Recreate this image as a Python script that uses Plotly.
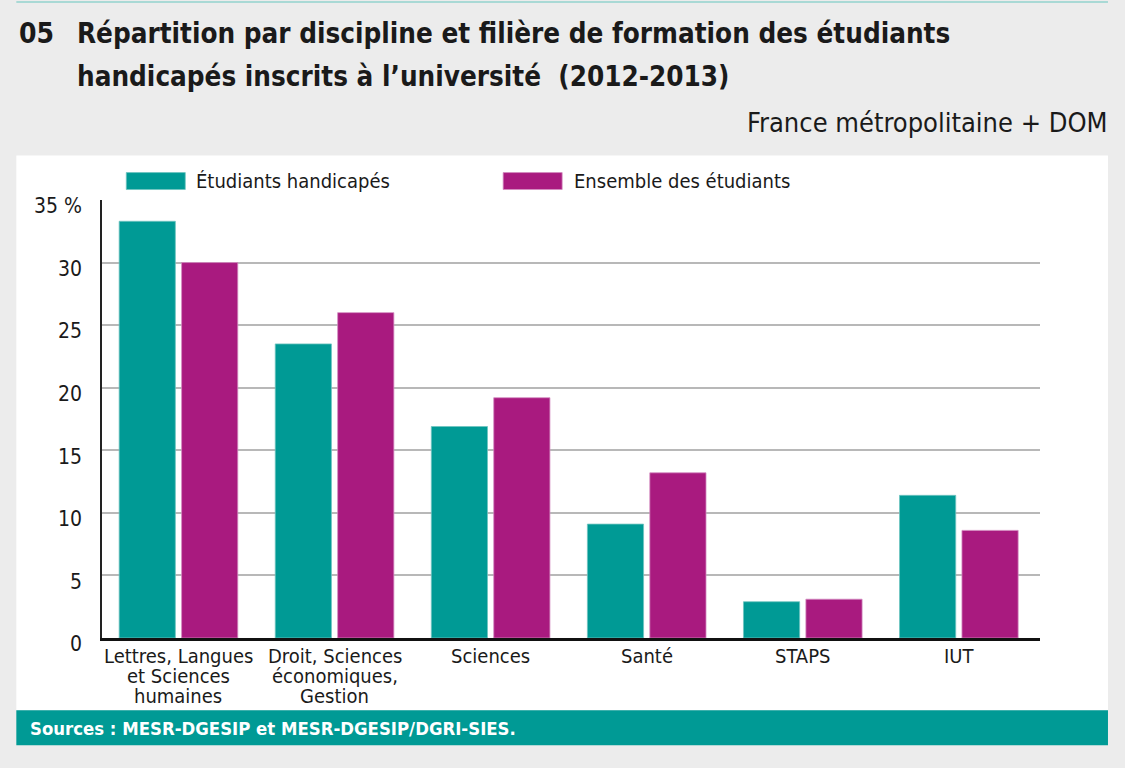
import plotly.graph_objects as go

# categories and tick labels (one entry per printed line)
categories = ["Lettres", "Droit", "Sciences", "Santé", "STAPS", "IUT"]
cat_lines = [
    ["Lettres, Langues", "et Sciences", "humaines"],
    ["Droit, Sciences", "économiques,", "Gestion"],
    ["Sciences"],
    ["Santé"],
    ["STAPS"],
    ["IUT"],
]
handicapes = [33.3, 23.5, 16.9, 9.1, 2.9, 11.4]
ensemble = [30.0, 26.0, 19.2, 13.2, 3.1, 8.6]
y_ticks = [0, 5, 10, 15, 20, 25, 30, 35]
y_ticktext = ["0", "5", "10", "15", "20", "25", "30", "35 %"]

TEAL = "#009a95"
MAGENTA = "#a91a7f"
BG = "#ececec"
INK = "#1a1a1a"
FONT = "DejaVu Sans Condensed, Liberation Sans Narrow, Roboto, sans-serif"

W, H = 1125, 768
L, R, T, B = 101.7, 85, 199.5, 129.5
PW, PH = W - L - R, H - T - B


# paper coords are relative to the plot area -> convert from figure pixels
def px_x(x):
    return (x - L) / PW


def px_y(y):
    return (H - B - y) / PH


fig = go.Figure()
fig.add_bar(x=categories, y=handicapes, name="Étudiants handicapés",
            marker=dict(color=TEAL, line=dict(color="#6fc4c0", width=0.8)))
fig.add_bar(x=categories, y=ensemble, name="Ensemble des étudiants",
            marker=dict(color=MAGENTA, line=dict(color="#d38cc0", width=0.8)))

shapes = [
    # white panel
    dict(type="rect", xref="paper", yref="paper", layer="below",
         x0=px_x(16), x1=px_x(1108), y0=px_y(711), y1=px_y(155),
         fillcolor="white", line=dict(width=0)),
    # footer band
    dict(type="rect", xref="paper", yref="paper",
         x0=px_x(16), x1=px_x(1108), y0=px_y(746), y1=px_y(711),
         fillcolor=TEAL, line=dict(width=0)),
    # thin top rule
    dict(type="rect", xref="paper", yref="paper",
         x0=px_x(16), x1=px_x(1108), y0=px_y(2), y1=px_y(0),
         fillcolor="#a9d9d5", line=dict(width=0)),
    # legend swatches
    dict(type="rect", xref="paper", yref="paper",
         x0=px_x(126), x1=px_x(185), y0=px_y(189), y1=px_y(172),
         fillcolor=TEAL, line=dict(color="#6fc4c0", width=0.8)),
    dict(type="rect", xref="paper", yref="paper",
         x0=px_x(503), x1=px_x(562), y0=px_y(189), y1=px_y(172),
         fillcolor=MAGENTA, line=dict(color="#d38cc0", width=0.8)),
]

annotations = [
    dict(text="<b>05</b>", x=px_x(17), y=px_y(33), xanchor="left", yanchor="middle",
         font=dict(size=28, color=INK)),
    dict(text="<b>Répartition par discipline et filière de formation des étudiants</b>",
         x=px_x(75), y=px_y(33), xanchor="left", yanchor="middle",
         font=dict(size=27.6, color=INK)),
    dict(text="<b>handicapés inscrits à l’université  (2012-2013)</b>",
         x=px_x(75), y=px_y(76), xanchor="left", yanchor="middle",
         font=dict(size=27.6, color=INK)),
    dict(text="France métropolitaine + DOM", x=px_x(1110), y=px_y(122),
         xanchor="right", yanchor="middle", font=dict(size=27, color=INK)),
    dict(text="Étudiants handicapés", x=px_x(194), y=px_y(180),
         xanchor="left", yanchor="middle", font=dict(size=20, color=INK)),
    dict(text="Ensemble des étudiants", x=px_x(572), y=px_y(180),
         xanchor="left", yanchor="middle", font=dict(size=20, color=INK)),
    dict(text="<b>Sources : MESR-DGESIP et MESR-DGESIP/DGRI-SIES.</b>",
         x=px_x(28), y=px_y(729), xanchor="left", yanchor="middle",
         font=dict(size=18.4, color="white")),
]

# category labels, one annotation per line for tight leading
for cat, lines in zip(categories, cat_lines):
    for i, line in enumerate(lines):
        annotations.append(dict(
            text=line, x=cat, xref="x", y=0, yref="paper",
            xanchor="center", yanchor="middle", yshift=-18 - 20 * i,
            font=dict(size=20, color=INK),
        ))

for a in annotations:
    a.setdefault("xref", "paper")
    a.setdefault("yref", "paper")
    a["showarrow"] = False

fig.update_layout(
    width=W, height=H,
    margin=dict(l=L, r=R, t=T, b=B, pad=0),
    paper_bgcolor=BG, plot_bgcolor="white",
    font=dict(family=FONT, color=INK),
    showlegend=False,
    barmode="group", bargap=0.2, bargroupgap=0.1,
    shapes=shapes, annotations=annotations,
)
fig.update_xaxes(
    range=[-0.49, 5.52], showticklabels=False, ticks="",
    showline=True, linecolor="#111111", linewidth=3, showgrid=False,
    fixedrange=True,
)
fig.update_yaxes(
    range=[0, 35], tickvals=y_ticks, ticktext=y_ticktext,
    showline=True, linecolor="#222222", linewidth=1.5,
    showgrid=True, gridcolor="#b8b8b8", gridwidth=1.5, zeroline=False,
    ticks="", ticklabelstandoff=14, ticklabelshift=6,
    tickfont=dict(size=21, color=INK), fixedrange=True,
)

# drop the browser's default body margin so the figure sits at 0,0
fig.write_html("out.html", config={"displayModeBar": False},
               post_script="document.body.style.margin = '0';")
